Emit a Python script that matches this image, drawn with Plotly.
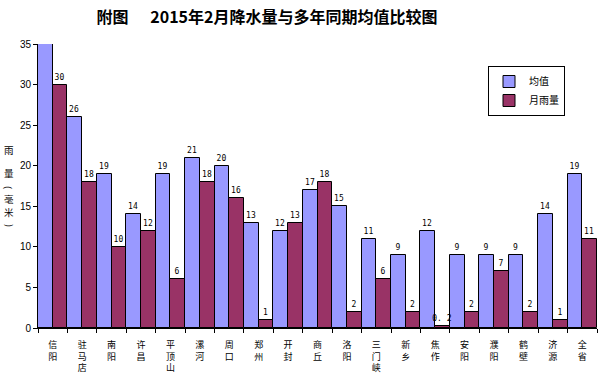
import plotly.graph_objects as go

categories = ["信阳", "驻马店", "南阳", "许昌", "平顶山", "漯河", "周口", "郑州", "开封", "商丘",
              "洛阳", "三门峡", "新乡", "焦作", "安阳", "濮阳", "鹤壁", "济源", "全省"]
avg_values = [37, 26, 19, 14, 19, 21, 20, 13, 12, 17, 15, 11, 9, 12, 9, 9, 9, 14, 19]
month_values = [30, 18, 10, 12, 6, 18, 16, 1, 13, 18, 2, 6, 2, 0.2, 2, 7, 2, 1, 11]
y_max = 35
y_ticks = [0, 5, 10, 15, 20, 25, 30, 35]
y_title_chars = ["雨", "量", "(", "毫", "米", ")"]

tick_text = ["<br>".join(list(c)) for c in categories]

W, H = 600, 377
L, R, T, B = 38, 3, 44, 49


def labels(vals):
    return ["" if v > y_max else (f"{v:g}" if v >= 1 else "0. 2") for v in vals]


fig = go.Figure()
fig.add_bar(x=categories, y=avg_values, name="均值",
            marker=dict(color="#9999FF", line=dict(color="#000000", width=1)),
            text=labels(avg_values), textposition="outside",
            textfont=dict(size=8, color="#000000", family="DejaVu Sans Mono"),
            cliponaxis=True)
fig.add_bar(x=categories, y=month_values, name="月雨量",
            marker=dict(color="#993366", line=dict(color="#000000", width=1)),
            text=labels(month_values), textposition="outside",
            textfont=dict(size=8, color="#000000", family="DejaVu Sans Mono"),
            cliponaxis=False)

plot_h = H - T - B
plot_w = W - L - R
fig.update_layout(
    width=W, height=H,
    margin=dict(l=L, r=R, t=T, b=B),
    paper_bgcolor="white", plot_bgcolor="white",
    barmode="group", bargap=0, bargroupgap=0,
    title=dict(text="<b>附图      2015年2月降水量与多年同期均值比较图</b>",
               x=267 / W, xanchor="center", y=1 - 17 / H, yanchor="middle",
               font=dict(size=16, color="#000000", family="Noto Sans CJK SC")),
    legend=dict(x=(488 - L) / plot_w, y=(328 - 66) / plot_h,
                xanchor="left", yanchor="top",
                bordercolor="#000000", borderwidth=1, bgcolor="white",
                font=dict(size=10, color="#000000", family="Noto Sans CJK SC"),
                itemwidth=30, tracegroupgap=0),
    uniformtext=dict(minsize=7, mode="show"),
)
fig.update_xaxes(type="category", range=[-0.5, len(categories) - 0.5],
                 tickmode="array", tickvals=categories, ticktext=tick_text,
                 tickson="boundaries", ticks="outside", ticklen=4, tickcolor="#000000",
                 ticklabelstandoff=8,
                 showline=True, linecolor="#000000", linewidth=1, showgrid=False,
                 tickfont=dict(size=9, color="#000000", family="Noto Sans CJK SC"))
fig.update_yaxes(range=[0, y_max], tickvals=y_ticks, ticks="outside", ticklen=4,
                 tickcolor="#000000", showline=True, linecolor="#000000", linewidth=1,
                 showgrid=False, zeroline=False,
                 tickfont=dict(size=10, color="#000000", family="Liberation Sans"))
y_title_px = [150, 173, 187, 199, 212, 225]
for ch, py in zip(y_title_chars, y_title_px):
    fig.add_annotation(text=ch, xref="paper", yref="paper",
                       x=(9 - L) / plot_w, y=(328 - py) / plot_h,
                       xanchor="center", yanchor="middle", showarrow=False,
                       textangle=90 if ch in "()" else 0,
                       font=dict(size=9.5 if ch not in "()" else 9, color="#000000",
                                 family="Noto Sans CJK SC"))
fig.write_html("out.html", config={"displayModeBar": False},
               post_script="document.body.style.margin='0';document.body.style.padding='0';")
